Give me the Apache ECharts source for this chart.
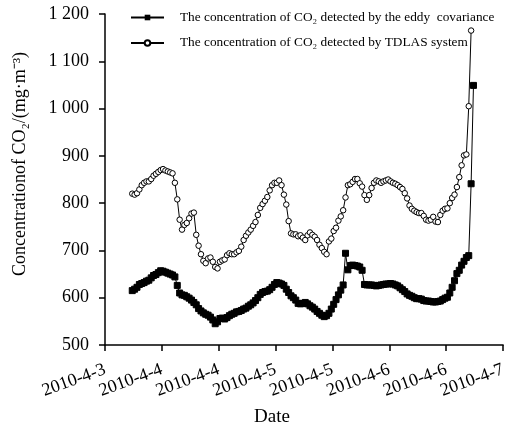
<!DOCTYPE html>
<html>
<head>
<meta charset="utf-8">
<script src="https://cdn.jsdelivr.net/npm/echarts@6/dist/echarts.min.js"></script>
<style>
html,body{margin:0;padding:0;background:#fff;}
#c{width:509px;height:432px;}
</style>
</head>
<body>
<div id="c"></div>
<script>
// X tick labels (one tick every 12 hours starting 2010-4-3 00:00)
const xTickLabels = ['2010-4-3','2010-4-4','2010-4-4','2010-4-5','2010-4-5','2010-4-6','2010-4-6','2010-4-7'];
const yTickLabels = ['500','600','700','800','900','1 000','1 100','1 200'];
// Sampling: half-hourly readings, first reading at 05:45 on 2010-4-3 (hours since 2010-4-3 00:00)
const startHour = 5.75;
const stepHour = 0.5;

const eddyName = 'The concentration of CO\u2082 detected by the eddy  covariance';
const tdlasName = 'The concentration of CO\u2082 detected by TDLAS system';

const eddy = [
615,618,622,628,630,632,635,637,642,647,
649,653,657,656,654,652,650,648,644,626,
610,606,605,602,599,595,590,585,577,572,
568,565,563,559,553,545,549,556,557,555,
558,562,565,567,570,571,573,576,578,582,
585,589,594,600,607,611,613,614,617,622,
628,632,631,629,626,618,611,604,600,595,
588,587,588,590,587,583,580,576,571,567,
563,560,562,567,576,586,596,606,616,627,
694,659,668,669,668,667,665,658,628,627,
627,627,626,625,626,627,628,629,629,630,
629,627,625,621,617,613,608,605,603,600,
598,598,597,594,593,593,592,591,591,592,
593,596,599,601,610,622,636,651,658,669,
677,685,689,841,1049
];

const tdlas = [
820,818,821,829,838,843,846,846,851,858,
862,866,870,872,869,867,865,863,843,808,
765,744,754,758,768,778,780,733,710,692,
678,673,683,685,676,665,662,676,679,681,
690,694,692,692,696,699,708,722,731,738,
744,752,760,775,790,798,805,813,827,838,
843,843,848,838,818,797,762,736,734,734,
730,732,727,722,732,738,733,729,722,712,
705,697,692,719,725,741,748,763,772,785,
812,838,840,845,851,851,842,835,817,807,
817,832,843,848,846,843,846,848,850,846,
843,841,838,834,830,821,810,795,788,784,
781,779,779,773,765,763,765,771,761,760,
775,784,788,789,800,811,818,834,855,880,
901,903,1005,1165
];

function toPairs(vals){
  return vals.map((v,i)=>[startHour + i*stepHour, v]);
}

const FONT = '"Liberation Serif","Times New Roman",serif';
const chart = echarts.init(document.getElementById('c'), null, {renderer:'canvas'});
chart.setOption({
  backgroundColor:'#fff',
  animation:false,
  grid:{left:105, right:2, top:14, bottom:84, containLabel:false},
  legend:{
    orient:'vertical', left:125, top:6,
    itemWidth:33, itemHeight:7, itemGap:12.5,
    textStyle:{fontFamily:FONT, fontSize:13.3, color:'#000', padding:[0,0,0,11]},
    data:[eddyName, tdlasName]
  },
  xAxis:{
    type:'value', min:0, max:84, interval:12,
    axisLine:{show:true, lineStyle:{color:'#000', width:1.5}},
    axisTick:{show:true, inside:false, length:6, lineStyle:{color:'#000', width:1.5}},
    splitLine:{show:false},
    axisLabel:{
      rotate:20, margin:24, fontFamily:FONT, fontSize:18, color:'#000',
      formatter:(v)=>xTickLabels[Math.round(v/12)]
    },
    name:'Date', nameLocation:'middle', nameGap:63,
    nameTextStyle:{fontFamily:FONT, fontSize:19, color:'#000', padding:[0,64,0,0]}
  },
  yAxis:{
    type:'value', min:500, max:1200, interval:100,
    axisLine:{show:true, lineStyle:{color:'#000', width:1.5}},
    axisTick:{show:true, inside:false, length:6, lineStyle:{color:'#000', width:1.5}},
    splitLine:{show:false},
    axisLabel:{
      margin:16, fontFamily:FONT, fontSize:18, color:'#000',
      formatter:(v)=>yTickLabels[Math.round((v-500)/100)]
    }
  },
  graphic:[{
    type:'text', x:20, y:164, rotation:Math.PI/2,
    style:{text:'Concentrationof CO\u2082/(mg\u00b7m\u207b\u00b3)', fontFamily:FONT, fontSize:18, fill:'#000', align:'center', verticalAlign:'middle'}
  }],
  series:[
    {
      name:eddyName, type:'line', data:toPairs(eddy),
      symbol:'rect', symbolSize:6, showAllSymbol:true,
      lineStyle:{color:'#000', width:1},
      itemStyle:{color:'#000', borderColor:'#000'},
      z:2
    },
    {
      name:tdlasName, type:'line', data:toPairs(tdlas),
      symbol:'circle', symbolSize:5.5, showAllSymbol:true,
      lineStyle:{color:'#000', width:1},
      itemStyle:{color:'#fff', borderColor:'#000', borderWidth:1},
      z:3
    }
  ]
});
</script>
</body>
</html>
